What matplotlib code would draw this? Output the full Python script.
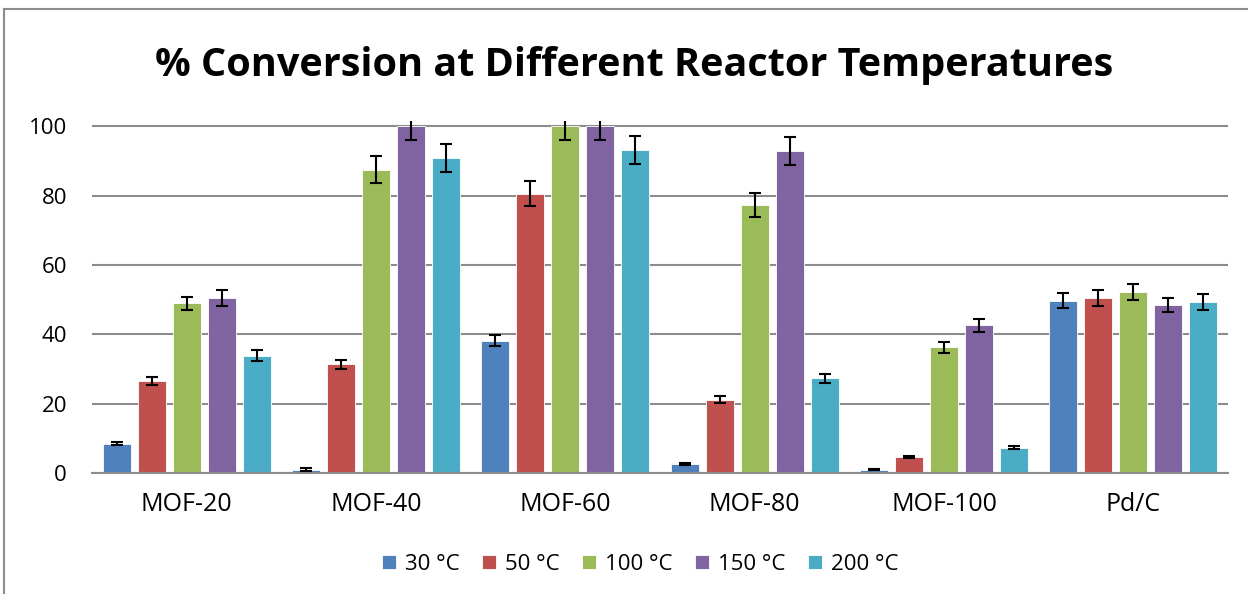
import matplotlib.pyplot as plt
import numpy as np
from matplotlib.lines import Line2D

plt.rcParams['font.family'] = ['Open Sans', 'DejaVu Sans']

groups = ['MOF-20', 'MOF-40', 'MOF-60', 'MOF-80', 'MOF-100', 'Pd/C']
temps = ['30 °C', '50 °C', '100 °C', '150 °C', '200 °C']
colors = ['#4f81bd', '#c0504d', '#9bbb59', '#8064a2', '#4bacc6']

# % conversion per temperature, in group order
conv_30 = [8.4, 1.0, 38.2, 2.6, 1.0, 49.7]
conv_50 = [26.6, 31.4, 80.6, 21.2, 4.7, 50.5]
conv_100 = [48.9, 87.5, 100, 77.3, 36.3, 52.2]
conv_150 = [50.5, 100, 100, 92.9, 42.6, 48.5]
conv_200 = [33.8, 90.8, 93.1, 27.3, 7.3, 49.3]

err_30 = [0.4, 0.3, 1.7, 0.3, 0.2, 2.2]
err_50 = [1.2, 1.3, 3.5, 0.9, 0.3, 2.2]
err_100 = [2.0, 3.8, 4.0, 3.4, 1.6, 2.3]
err_150 = [2.2, 4.0, 4.0, 4.0, 1.8, 2.1]
err_200 = [1.6, 4.0, 4.0, 1.2, 0.4, 2.2]

series = [conv_30, conv_50, conv_100, conv_150, conv_200]
errors = [err_30, err_50, err_100, err_150, err_200]

fig = plt.figure(figsize=(12.48, 5.94), dpi=100)
ax = fig.add_axes([0.0737, 0.2037, 0.9103, 0.593])

x = np.arange(len(groups))
step = 0.185
width = 0.148
for i, (vals, errs) in enumerate(zip(series, errors)):
    pos = x + (i - 2) * step
    ax.bar(pos, vals, width, color=colors[i], edgecolor='white', linewidth=0.6,
           label=temps[i], zorder=2)
    ax.errorbar(pos, vals, yerr=errs, fmt='none', ecolor='black', elinewidth=1.5,
                capsize=4, capthick=1.5, zorder=3)

ax.set_xlim(-0.5, len(groups) - 0.5)
ax.set_ylim(0, 101.6)
ax.set_yticks([0, 20, 40, 60, 80, 100])
ax.yaxis.grid(True, color='#8c8c8c', linewidth=1.5, zorder=0)
ax.set_axisbelow(True)
for s in ['top', 'right', 'left']:
    ax.spines[s].set_visible(False)
ax.spines['bottom'].set_color('#8c8c8c')
ax.spines['bottom'].set_linewidth(1.5)
ax.set_xticks(x)
ax.set_xticklabels(groups, fontsize=18)
ax.tick_params(axis='x', length=0, pad=14)
ax.tick_params(axis='y', length=0, labelsize=16, pad=18)

fig.text(0.508, 0.89, '% Conversion at Different Reactor Temperatures',
         ha='center', va='center', fontsize=28.5, fontweight='bold')

fig.legend(loc='center', bbox_to_anchor=(0.513, 0.05), ncol=5, frameon=False,
           fontsize=16, handlelength=0.65, handleheight=0.65, handletextpad=0.4,
           columnspacing=1.0)

# chart border (top and left edges visible)
fig.add_artist(Line2D([0.0035, 1.0], [0.985, 0.985], color='#8c8c8c', linewidth=1.5,
                      transform=fig.transFigure))
fig.add_artist(Line2D([0.0035, 0.0035], [0.0, 0.985], color='#8c8c8c', linewidth=1.5,
                      transform=fig.transFigure))

fig.savefig('out.png', dpi=100)
